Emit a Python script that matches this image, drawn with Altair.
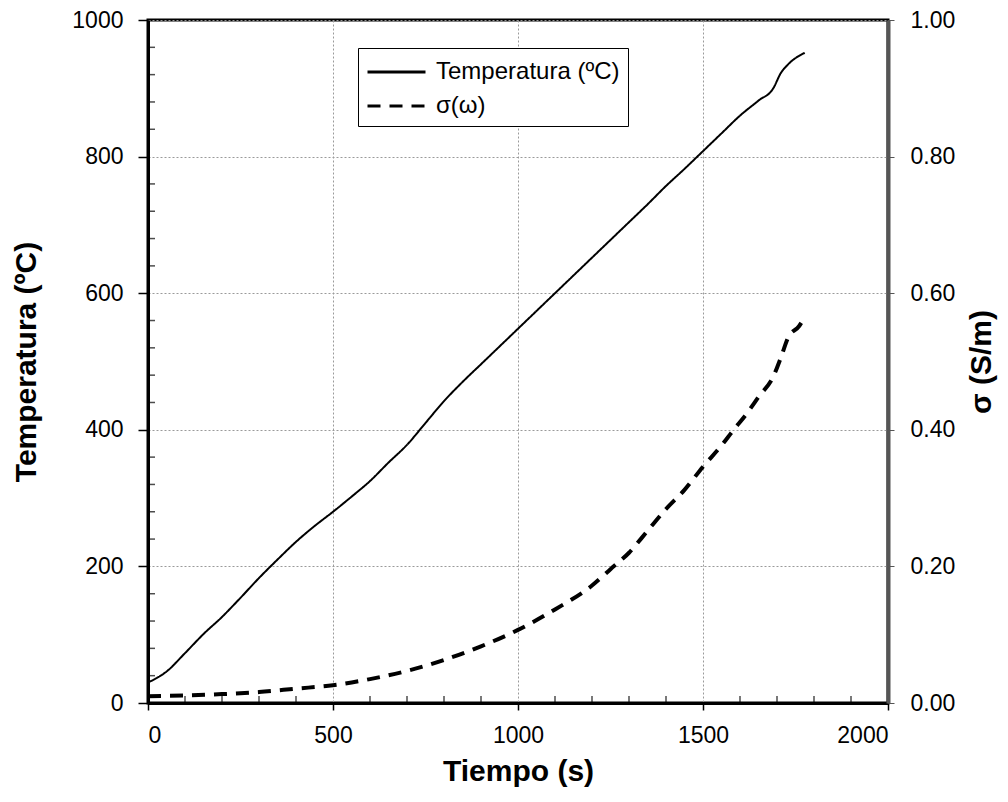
import altair as alt
import pandas as pd

# Temperature curve (left axis)
t_time = [0, 50, 100, 150, 200, 250, 300, 350, 400, 450, 500, 550, 600, 650, 700, 750, 800, 850, 900, 950,
          1000, 1050, 1100, 1150, 1200, 1250, 1300, 1350, 1400, 1450, 1500, 1550, 1600, 1650, 1690, 1710, 1730, 1775]
t_temp = [30, 46, 73, 101, 126, 154, 183, 210, 236, 259, 280, 302, 325, 352, 378, 410, 442, 470, 496, 522,
          548, 574, 600, 626, 652, 678, 704, 730, 757, 782, 808, 834, 860, 882, 900, 922, 935, 952]

# Conductivity curve (right axis)
s_time = [0, 100, 200, 300, 400, 500, 600, 700, 800, 900, 1000, 1100, 1200, 1250, 1300, 1350, 1400,
          1450, 1500, 1550, 1580, 1620, 1650, 1690, 1710, 1730, 1760, 1775]
s_sigma = [0.010, 0.011, 0.013, 0.016, 0.021, 0.026, 0.035, 0.047, 0.063, 0.083, 0.107, 0.137, 0.172,
           0.196, 0.220, 0.252, 0.284, 0.312, 0.346, 0.377, 0.398, 0.425, 0.448, 0.478, 0.505, 0.535, 0.552, 0.565]

labels = ["Temperatura (ºC)", "σ(ω)"]

x_major = [0, 500, 1000, 1500, 2000]
x_minor = [100, 200, 300, 400, 600, 700, 800, 900, 1100, 1200, 1300, 1400, 1600, 1700, 1800, 1900]
y_major = [0, 200, 400, 600, 800, 1000]
y_minor = [40, 80, 120, 160, 240, 280, 320, 360, 440, 480, 520, 560, 640, 680, 720, 760, 840, 880, 920, 960]
s_major = [0, 0.2, 0.4, 0.6, 0.8, 1.0]

df_t = pd.DataFrame({"time": t_time, "value": t_temp, "serie": labels[0]})
df_s = pd.DataFrame({"time": s_time, "value": s_sigma, "serie": labels[1]})
df_xminor = pd.DataFrame({"time": x_minor})
df_yminor = pd.DataFrame({"value": y_minor})

FONT = "Liberation Sans"
xscale = alt.Scale(domain=[0, 2000], nice=False)
tscale = alt.Scale(domain=[0, 1000], nice=False)

x_enc = alt.X("time:Q", scale=xscale,
              axis=alt.Axis(orient="bottom", values=x_major, format="d", title="Tiempo (s)",
                            titleFontSize=30, titleFontWeight="bold", titlePadding=9,
                            labelFontSize=23, labelPadding=14, tickSize=7,
                            domainWidth=3, domainColor="black", tickColor="black", tickWidth=1.5,
                            gridDash=[2, 2], gridColor="#9a9a9a", gridWidth=1))

dash_scale = alt.Scale(domain=labels, range=[[1, 0], [13, 9]])
legend = alt.Legend(title=None, orient="none", legendX=210, legendY=28,
                    symbolType="M-1,0H3", symbolSize=841, symbolStrokeWidth=3,
                    symbolStrokeColor="black", symbolFillColor="transparent",
                    labelFontSize=24, labelFont=FONT, labelOffset=38,
                    strokeColor="black", padding=8, rowPadding=6,
                    fillColor="white", labelLimit=400, cornerRadius=0)

temp_line = alt.Chart(df_t).mark_line(color="black", strokeWidth=2, interpolate="monotone").encode(
    x=x_enc,
    y=alt.Y("value:Q", scale=tscale,
            axis=alt.Axis(orient="left", values=y_major, format="d", title="Temperatura (ºC)",
                          titleFontSize=30, titleFontWeight="bold", titlePadding=30,
                          labelFontSize=23, labelPadding=15, tickSize=10,
                          domainWidth=3, domainColor="black", tickColor="black", tickWidth=1.5,
                          gridDash=[2, 2], gridColor="#9a9a9a", gridWidth=1)),
    strokeDash=alt.StrokeDash("serie:N", scale=dash_scale, legend=legend),
)

sigma_line = alt.Chart(df_s).mark_line(color="black", strokeWidth=4, strokeCap="butt",
                                       interpolate="monotone").encode(
    x=alt.X("time:Q", scale=xscale, axis=None),
    y=alt.Y("value:Q", scale=alt.Scale(domain=[0, 1], nice=False),
            axis=alt.Axis(orient="right", values=s_major, format=".2f",
                          title="σ (S/m)", titleAngle=270, titleFontSize=30, titleFontWeight="bold",
                          titlePadding=42, labelFontSize=23, labelPadding=16, tickSize=6,
                          domainWidth=4, domainColor="#555555", tickColor="#555555", grid=False)),
    strokeDash=alt.StrokeDash("serie:N", scale=dash_scale, legend=legend),
)

# inward minor ticks along the bottom and left axes
x_ticks = alt.Chart(df_xminor).mark_tick(orient="vertical", size=7, thickness=1.5, color="black",
                                          yOffset=-3.5).encode(
    x=alt.X("time:Q", scale=xscale, axis=None),
    y=alt.Y(datum=0, scale=tscale, axis=None),
)
y_ticks = alt.Chart(df_yminor).mark_tick(orient="horizontal", size=7, thickness=1.5, color="black",
                                          xOffset=3.5).encode(
    x=alt.X(datum=0, scale=xscale, axis=None),
    y=alt.Y("value:Q", scale=tscale, axis=None),
)

chart = alt.layer(temp_line, sigma_line, x_ticks, y_ticks).resolve_scale(
    y="independent", x="independent"
).properties(
    width=740, height=683,
    autosize=alt.AutoSizeParams(type="none"),
    padding={"left": 148, "top": 20, "right": 120, "bottom": 99},
    background="white",
).configure_view(stroke="black", strokeWidth=3).configure_axis(
    labelFont=FONT, titleFont=FONT, labelColor="black", titleColor="black"
)

chart.save("out.html", embed_options={"renderer": "svg", "actions": False})
